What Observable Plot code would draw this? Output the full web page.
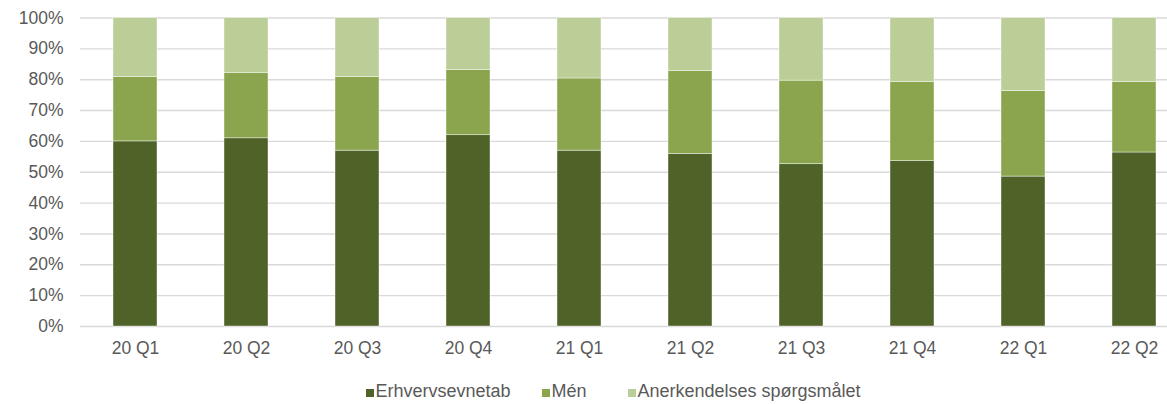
<!DOCTYPE html>
<html>
<head>
<meta charset="utf-8">
<script src="https://cdn.jsdelivr.net/npm/d3@7"></script>
<script src="https://cdn.jsdelivr.net/npm/@observablehq/plot@0.6"></script>
<style>
  html, body { margin: 0; padding: 0; background: #fff; }
  body { position: relative; font-family: "Liberation Sans", Arial, sans-serif; color: #595959; width: 1167px; height: 404px; overflow: hidden; }
  #legend { position: absolute; left: 0; top: 0; width: 1167px; height: 404px; pointer-events: none; }
  .sw { position: absolute; width: 8px; height: 8px; top: 389px; }
  .lt { position: absolute; top: 382.3px; font-size: 18px; line-height: 1; white-space: nowrap; }
</style>
</head>
<body>
<div id="chart"></div>
<div id="legend"></div>
<script>
const quarters = ["20 Q1","20 Q2","20 Q3","20 Q4","21 Q1","21 Q2","21 Q3","21 Q4","22 Q1","22 Q2"];
const seriesNames = ["Erhvervsevnetab","Mén","Anerkendelses spørgsmålet"];
const colors = ["#4f6228","#8aa54e","#bbce97"];
// Percentages per quarter
const erhvervsevnetab = [60.0, 61.0, 57.0, 62.0, 57.0, 55.9, 52.6, 53.6, 48.6, 56.4];
const men             = [20.9, 21.1, 23.9, 21.1, 23.4, 26.9, 27.1, 25.6, 27.7, 22.8];
const anerkendelse    = [19.1, 17.9, 19.1, 16.9, 19.6, 17.2, 20.3, 20.8, 23.7, 20.8];
const yTicks = [0,10,20,30,40,50,60,70,80,90,100];

const seriesValues = [erhvervsevnetab, men, anerkendelse];
const data = [];
quarters.forEach((q, i) => {
  seriesNames.forEach((s, j) => data.push({quarter: q, series: s, value: seriesValues[j][i]}));
});

const plot = Plot.plot({
  width: 1167,
  height: 370,
  marginLeft: 80,
  marginRight: 0,
  marginTop: 17.5,
  marginBottom: 44,
  style: {fontFamily: '"Liberation Sans", Arial, sans-serif', fontSize: "17.5px", color: "#595959", background: "#fff"},
  x: {domain: quarters, range: [79.5, 1189.5], paddingInner: 0.6, paddingOuter: 0.3, label: null},
  y: {domain: [0, 100], label: null},
  color: {domain: seriesNames, range: colors},
  marks: [
    Plot.ruleY(yTicks, {stroke: "#d9d9d9", strokeWidth: 1.4}),
    Plot.barY(data, {x: "quarter", y: "value", fill: "series", stroke: "#ffffff", strokeWidth: 0.6, strokeOpacity: 0.7}),
    Plot.axisY(yTicks, {tickSize: 0, tickPadding: 17, tickFormat: d => d + "%", label: null}),
    Plot.axisX({tickSize: 0, tickPadding: 15.5, label: null})
  ]
});
document.getElementById("chart").appendChild(plot);

const legendSwatchX = [366, 542, 628];
const legend = document.getElementById("legend");
seriesNames.forEach((s, j) => {
  const sw = document.createElement("div");
  sw.className = "sw";
  sw.style.left = legendSwatchX[j] + "px";
  sw.style.background = colors[j];
  const t = document.createElement("div");
  t.className = "lt";
  t.style.left = (legendSwatchX[j] + 9.5) + "px";
  t.textContent = s;
  legend.appendChild(sw);
  legend.appendChild(t);
});
</script>
</body>
</html>
